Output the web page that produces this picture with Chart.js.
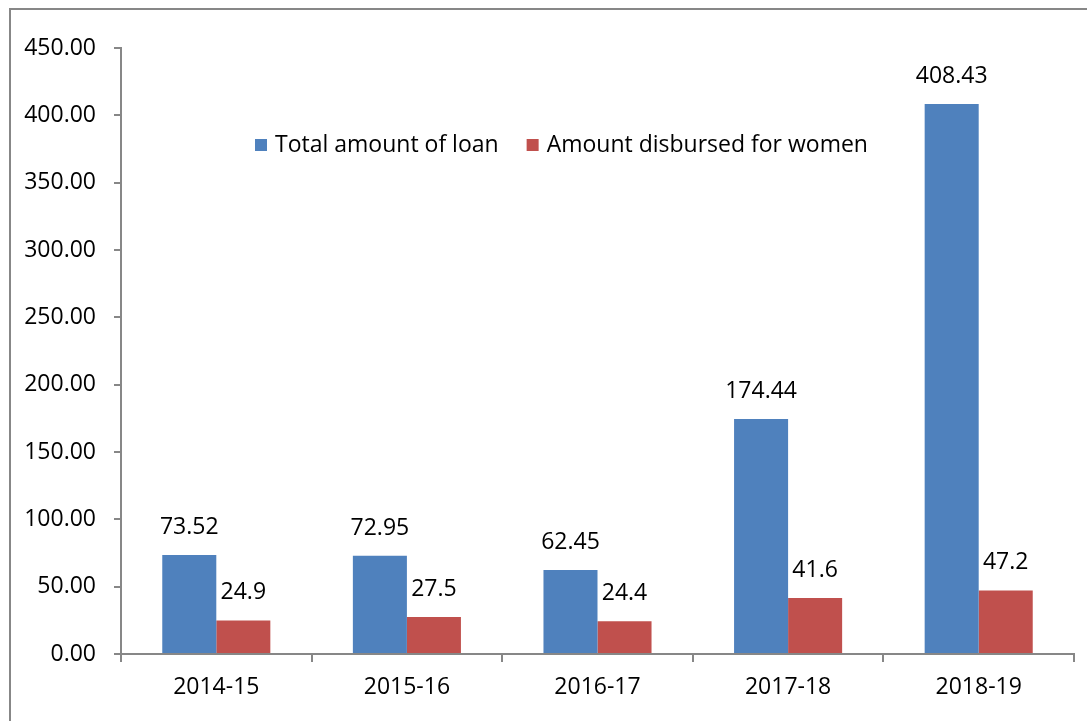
<!DOCTYPE html>
<html>
<head>
<meta charset="utf-8">
<script src="https://cdn.jsdelivr.net/npm/chart.js@4/dist/chart.umd.min.js"></script>
<style>
  html, body { margin: 0; padding: 0; background: #fff; }
  #wrap { width: 1087px; height: 721px; position: relative; }
</style>
</head>
<body>
<div id="wrap"><canvas id="loanChart" width="1087" height="721"></canvas></div>
<script>
const years = ['2014-15', '2015-16', '2016-17', '2017-18', '2018-19'];
const totalLoan = [73.52, 72.95, 62.45, 174.44, 408.43];
const womenLoan = [24.9, 27.5, 24.4, 41.6, 47.2];
const seriesNames = ['Total amount of loan', 'Amount disbursed for women'];
const seriesColors = ['#4F81BD', '#C0504D'];

const FONT = '"Open Sans", sans-serif';
const FONT_SIZE = 23;
const AXIS_GREY = '#878787';

// value labels above each bar + legend inside the plot + outer frame
const extras = {
  id: 'extras',
  afterDatasetsDraw(chart) {
    const ctx = chart.ctx;
    ctx.save();
    ctx.font = FONT_SIZE + 'px ' + FONT;
    ctx.fillStyle = '#000';
    ctx.textAlign = 'center';
    ctx.textBaseline = 'alphabetic';
    chart.data.datasets.forEach((ds, i) => {
      chart.getDatasetMeta(i).data.forEach((bar, j) => {
        ctx.fillText(String(ds.data[j]), bar.x, bar.y - 21);
      });
    });

    // legend
    ctx.textAlign = 'left';
    ctx.textBaseline = 'middle';
    let x = 255;
    const y = 145;
    chart.data.datasets.forEach((ds) => {
      ctx.fillStyle = ds.backgroundColor;
      ctx.fillRect(x, y - 6, 12, 12);
      ctx.fillStyle = '#000';
      ctx.fillText(ds.label, x + 20, y);
      x += 20 + ctx.measureText(ds.label).width + 28;
    });

    // chart frame
    ctx.strokeStyle = AXIS_GREY;
    ctx.lineWidth = 2;
    ctx.strokeRect(10, 9, 1200, 900);
    ctx.restore();
  }
};

new Chart(document.getElementById('loanChart'), {
  type: 'bar',
  data: {
    labels: years,
    datasets: [
      { label: seriesNames[0], data: totalLoan, backgroundColor: seriesColors[0] },
      { label: seriesNames[1], data: womenLoan, backgroundColor: seriesColors[1] }
    ]
  },
  options: {
    responsive: false,
    animation: false,
    devicePixelRatio: 1,
    layout: { padding: { top: 48, right: 13, left: 0, bottom: 0 } },
    datasets: { bar: { barPercentage: 1, categoryPercentage: 0.567 } },
    scales: {
      x: {
        afterFit: (s) => { s.height = 67; },
        border: { color: AXIS_GREY, width: 2 },
        grid: { drawOnChartArea: false, tickLength: 8, color: AXIS_GREY, lineWidth: 2, offset: true },
        ticks: { color: '#000', font: { family: FONT, size: FONT_SIZE }, padding: 12 }
      },
      y: {
        min: 0,
        max: 450,
        afterFit: (s) => { s.width = 121; },
        border: { color: AXIS_GREY, width: 2 },
        grid: { drawOnChartArea: false, tickLength: 7, color: AXIS_GREY, lineWidth: 2 },
        ticks: {
          stepSize: 50,
          color: '#000',
          font: { family: FONT, size: FONT_SIZE },
          padding: 18,
          callback: (v) => v.toFixed(2)
        }
      }
    },
    plugins: {
      legend: { display: false },
      tooltip: { enabled: false }
    }
  },
  plugins: [extras]
});
</script>
</body>
</html>
